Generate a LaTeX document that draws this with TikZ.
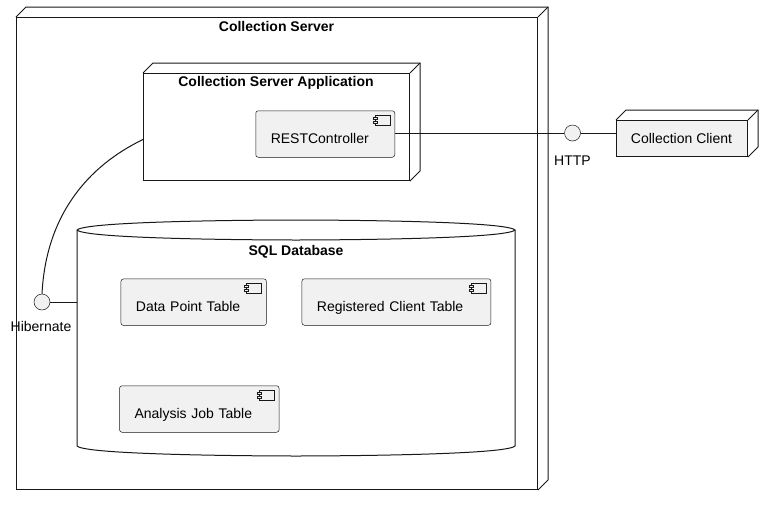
\documentclass[tikz,border=0pt]{standalone}
\usepackage{fontspec}
\setmainfont{Liberation Sans}
\usetikzlibrary{calc}
\definecolor{ink}{HTML}{181818}
\definecolor{boxfill}{HTML}{F1F1F1}
\tikzset{
  edge3d/.style={draw=ink, line width=1pt},
  node3d/.style={edge3d, rectangle, inner sep=0pt, anchor=north west},
  comp/.style={draw=ink, line width=0.5pt, fill=boxfill, rounded corners=2.5pt,
     anchor=north west, minimum height=46.5pt, inner xsep=0pt, inner ysep=0pt,
     align=left, text height=18.5pt, text depth=0pt, font=\fontsize{14pt}{16pt}\selectfont},
  iface/.style={circle, draw=ink, line width=0.5pt, fill=boxfill, minimum size=16pt, inner sep=0pt},
  lbl/.style={anchor=base, inner sep=0pt, font=\fontsize{14pt}{16pt}\selectfont},
  ttl/.style={lbl, font=\fontsize{14pt}{16pt}\selectfont\bfseries},
  conn/.style={draw=ink, line width=1pt},
  iconline/.style={draw=ink, line width=0.5pt}
}
\newcommand{\backedges}[1]{%
  \draw[edge3d] (#1.north west) -- ++(10,-10) -- ($(#1.north east)+(10,-10)$)
     -- ($(#1.south east)+(10,-10)$) -- (#1.south east);
  \draw[edge3d] (#1.north east) -- ++(10,-10);}
\newcommand{\compicon}[1]{%
  \draw[iconline, fill=boxfill] ($(#1.north east)+(-20,5)$) rectangle ++(15,10);
  \draw[iconline, fill=boxfill] ($(#1.north east)+(-22,7)$) rectangle ++(4,2);
  \draw[iconline, fill=boxfill] ($(#1.north east)+(-22,11)$) rectangle ++(4,2);}
\begin{document}
\begin{tikzpicture}[x=1pt,y=-1pt]
\useasboundingbox (0,0) rectangle (774,504);
% outer node
\node[node3d, fill=white, minimum width=521pt, minimum height=472pt] (server) at (16,17) {};
\backedges{server}
\node[ttl] (serverttl) at (276.5,31) {Collection Server};
% application node
\node[node3d, fill=white, minimum width=266pt, minimum height=107pt] (app) at (143,73) {};
\backedges{app}
\node[ttl] (appttl) at (276,86) {Collection Server Application};
\node[comp, minimum width=139pt, text width=109pt] (rest) at (255.5,110.5) {RESTController};
\compicon{rest}
% client node
\node[node3d, fill=boxfill, minimum width=131pt, minimum height=36pt] (client) at (616,120) {};
\backedges{client}
\node[lbl] (clientttl) at (681.5,143) {Collection Client};
% database
\node[inner sep=0pt, minimum width=438pt, minimum height=236pt] (db) at (296,338) {};
\draw[draw=ink, line width=1pt, fill=white]
  (77,230) .. controls (87,220) and (296,220) .. (296,220)
  .. controls (296,220) and (505,220) .. (515,230) -- (515,446)
  .. controls (505,456) and (296,456) .. (296,456)
  .. controls (296,456) and (87,456) .. (77,446) -- cycle;
\draw[draw=ink, line width=1pt]
  (77,230) .. controls (87,240) and (296,240) .. (296,240)
  .. controls (296,240) and (505,240) .. (515,230);
\node[ttl] (dbttl) at (296,255) {SQL Database};
\node[comp, minimum width=145.5pt, text width=115.5pt] (dpt) at (120.7,278.7) {Data Point Table};
\compicon{dpt}
\node[comp, minimum width=189pt, text width=159pt] (rct) at (301.7,278.5) {Registered Client Table};
\compicon{rct}
\node[comp, minimum width=159.5pt, text width=129.5pt] (ajt) at (119.3,385.5) {Analysis Job Table};
\compicon{ajt}
% interfaces
\node[iface] (http) at (572.5,133) {};
\node[lbl] (httplbl) at (572.5,165) {HTTP};
\node[iface] (hib) at (42,302) {};
\node[lbl] (hiblbl) at (41,331.5) {Hibernate};
% connectors
\draw[conn] (rest.east |- http) -- (http.west);
\draw[conn] (http.east) -- (client.west |- http);
\draw[conn] (hib.east) -- (db.west |- hib);
\draw[conn] (hib.north) .. controls (46,215) and (88,166) .. ([yshift=-12.5pt]app.west);
\end{tikzpicture}
\end{document}
